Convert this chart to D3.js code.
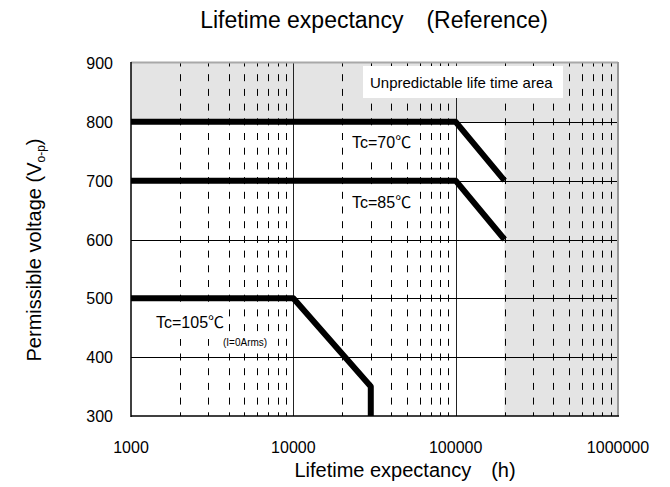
<!DOCTYPE html>
<html>
<head>
<meta charset="utf-8">
<script src="https://cdn.jsdelivr.net/npm/d3@7"></script>
<style>
  body { margin: 0; background: #fff; }
  text { font-family: "Liberation Sans", Arial, "Noto Sans CJK JP", sans-serif; fill: #000; }
</style>
</head>
<body>
<div id="chart"></div>
<script>
// data
var xTicks = [1000, 10000, 100000, 1000000];
var yTicks = [300, 400, 500, 600, 700, 800, 900];
var seriesNames = ["Tc=70℃", "Tc=85℃", "Tc=105℃"];
var tc70 = [[1000, 800], [100000, 800], [200000, 700]];
var tc85 = [[1000, 700], [100000, 700], [200000, 600]];
var tc105 = [[1000, 500], [10000, 500], [30000, 350], [30000, 300]];
var noteText = "(I=0Arms)";
var areaText = "Unpredictable life time area";
// unpredictable zone limits
var limitVoltage = 800;
var limitHours = 200000;

function init(){
    var w = 670, h = 487;
    var svg = d3.select("#chart").append("svg")
                .attr("width", w)
                .attr("height", h);

    var left = 131, right = 618, top = 63, bottom = 416;

    var xScale = d3.scaleLog().domain([1000, 1000000]).range([left, right]);
    var yScale = d3.scaleLinear().domain([300, 900]).range([bottom, top]);

    // grey unpredictable areas
    svg.append("rect")
        .attr("x", left).attr("y", yScale(900))
        .attr("width", xScale(1000000) - left)
        .attr("height", yScale(limitVoltage) - yScale(900))
        .attr("fill", "#e4e4e4");
    svg.append("rect")
        .attr("x", xScale(limitHours)).attr("y", yScale(900))
        .attr("width", xScale(1000000) - xScale(limitHours))
        .attr("height", yScale(300) - yScale(900))
        .attr("fill", "#e4e4e4");

    // minor dashed verticals 2..9 per decade
    var minor = [];
    [1000, 10000, 100000].forEach(function(d){
        for (var k = 2; k <= 9; k++) minor.push(d * k);
    });
    svg.selectAll(".minor")
        .data(minor)
        .enter()
        .append("line")
        .attr("class", "minor")
        .attr("x1", d => Math.round(xScale(d)) + 0.5)
        .attr("x2", d => Math.round(xScale(d)) + 0.5)
        .attr("y1", top).attr("y2", bottom)
        .attr("stroke", "#000")
        .attr("stroke-width", 1)
        .attr("stroke-dasharray", "7,7.7")
        .attr("stroke-dashoffset", 3.5);

    // major verticals
    svg.selectAll(".major")
        .data([10000, 100000])
        .enter()
        .append("line")
        .attr("x1", d => Math.round(xScale(d)) + 0.5)
        .attr("x2", d => Math.round(xScale(d)) + 0.5)
        .attr("y1", top).attr("y2", bottom)
        .attr("stroke", "#222")
        .attr("stroke-width", 1);

    // horizontal grid
    svg.selectAll(".hgrid")
        .data(yTicks.slice(1, -1))
        .enter()
        .append("line")
        .attr("x1", left).attr("x2", right)
        .attr("y1", d => Math.round(yScale(d)) + 0.5)
        .attr("y2", d => Math.round(yScale(d)) + 0.5)
        .attr("stroke", "#000")
        .attr("stroke-width", 1);

    // frame: top/right grey, left/bottom black
    svg.append("line").attr("x1", left).attr("x2", right).attr("y1", top - 0.5).attr("y2", top - 0.5)
        .attr("stroke", "#a8a8a8").attr("stroke-width", 2);
    svg.append("line").attr("x1", right).attr("x2", right).attr("y1", top - 1).attr("y2", bottom)
        .attr("stroke", "#999").attr("stroke-width", 2);
    svg.append("line").attr("x1", left).attr("x2", left).attr("y1", top - 1).attr("y2", bottom + 1)
        .attr("stroke", "#000").attr("stroke-width", 1.5);
    svg.append("line").attr("x1", left).attr("x2", right + 1).attr("y1", bottom).attr("y2", bottom)
        .attr("stroke", "#000").attr("stroke-width", 1.5);

    // white label boxes
    var boxes = [
        [363, 66, 200, 32],
        [345, 130, 69, 28],
        [345, 189, 69, 28],
        [150, 306, 75, 33],
        [222, 337, 53, 12]
    ];
    svg.selectAll(".box")
        .data(boxes)
        .enter()
        .append("rect")
        .attr("x", d => d[0]).attr("y", d => d[1])
        .attr("width", d => d[2]).attr("height", d => d[3])
        .attr("fill", "#fff");

    // thick lifetime lines
    var line = d3.line().x(d => xScale(d[0])).y(d => yScale(d[1]));
    svg.selectAll(".life")
        .data([tc70, tc85, tc105])
        .enter()
        .append("path")
        .attr("d", line)
        .attr("fill", "none")
        .attr("stroke", "#000")
        .attr("stroke-width", 6)
        .attr("stroke-linejoin", "round");

    // labels
    var labelPos = [[352, 148], [352, 208], [156, 328]];
    svg.selectAll(".lbl")
        .data(seriesNames)
        .enter()
        .append("text")
        .attr("x", (d, i) => labelPos[i][0])
        .attr("y", (d, i) => labelPos[i][1])
        .style("font-size", "16px")
        .text(d => d);
    svg.append("text")
        .attr("x", 223).attr("y", 346)
        .style("font-size", "10px")
        .text(noteText);
    svg.append("text")
        .attr("x", 370).attr("y", 88)
        .style("font-size", "15px")
        .text(areaText);

    // tick labels
    svg.selectAll(".ytl")
        .data(yTicks)
        .enter()
        .append("text")
        .attr("x", 113)
        .attr("y", d => yScale(d) + 6)
        .attr("text-anchor", "end")
        .style("font-size", "16px")
        .text(d => d);
    svg.selectAll(".xtl")
        .data(xTicks)
        .enter()
        .append("text")
        .attr("x", d => xScale(d))
        .attr("y", 453)
        .attr("text-anchor", "middle")
        .style("font-size", "16px")
        .text(d => d);

    // titles
    svg.append("text")
        .attr("x", 374).attr("y", 28)
        .attr("text-anchor", "middle")
        .style("font-size", "23px")
        .text("Lifetime expectancy\u3000(Reference)");
    svg.append("text")
        .attr("x", 405).attr("y", 477)
        .attr("text-anchor", "middle")
        .style("font-size", "20px")
        .text("Lifetime expectancy\u3000(h)");
    var yl = svg.append("text")
        .attr("transform", "translate(41,250) rotate(-90)")
        .attr("text-anchor", "middle")
        .style("font-size", "20px");
    yl.append("tspan").text("Permissible voltage (V");
    yl.append("tspan").attr("dy", 4).style("font-size", "12px").text("o-p");
    yl.append("tspan").attr("dy", -4).text(")");
}
window.onload = init;
</script>
</body>
</html>
